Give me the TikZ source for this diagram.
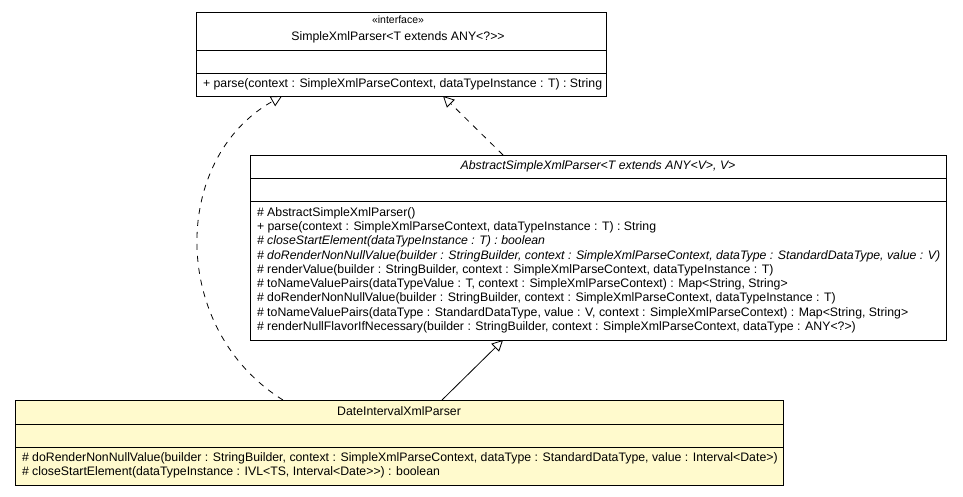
\documentclass[tikz,border=0pt]{standalone}
\usepackage{fontspec}
\setmainfont{Liberation Sans}
\usetikzlibrary{calc,arrows.meta}
\definecolor{noteyellow}{RGB}{255,250,205}
\begin{document}
\begin{tikzpicture}[x=1pt,y=-1pt,
  every node/.style={inner sep=0pt,outer sep=0pt},
  umltext/.style={font=\fontsize{12.3}{14}\selectfont,anchor=west},
  umlname/.style={font=\fontsize{12.3}{14}\selectfont,anchor=center},
  umlital/.style={font=\fontsize{12.3}{14}\selectfont\itshape,anchor=west},
  stereo/.style={font=\fontsize{10.5}{12}\selectfont,anchor=center},
  boxline/.style={draw=black,line width=0.9pt},
  realize/.style={dashed,dash pattern=on 6pt off 6pt,line width=0.8pt,-{Triangle[open,length=11pt,width=11pt]}},
  inherit/.style={line width=0.8pt,-{Triangle[open,length=11pt,width=11pt]}}]
\useasboundingbox (0,0) rectangle (963,496);
\fill[white] (0,0) rectangle (963,496);
% interface
\node[boxline,minimum width=410pt,minimum height=84pt,anchor=north west] (iface) at (196,12) {};
\draw[boxline] (196,50) -- (606,50) (196,73) -- (606,73);
\node[stereo] (ifst) at (398,20) {«interface»};
\node[umlname] (ifnm) at (398,37) {SimpleXmlParser<T extends ANY<?>{}>};
\node[umltext] (ifm) at (203,84) {+ parse(context : SimpleXmlParseContext, dataTypeInstance : T) : String};
% abstract class
\node[boxline,minimum width=696pt,minimum height=185pt,anchor=north west] (abs) at (250,155) {};
\draw[boxline] (250,178) -- (946,178) (250,201) -- (946,201);
\node[umlname,font=\fontsize{12.3}{14}\selectfont\itshape] (absnm) at (598,166) {AbstractSimpleXmlParser<T extends ANY<V>, V>};
\node[umltext] (a1) at (257,213) {\# AbstractSimpleXmlParser()};
\node[umltext] (a2) at (257,227.3) {+ parse(context : SimpleXmlParseContext, dataTypeInstance : T) : String};
\node[umlital] (a3) at (257,241.6) {\# closeStartElement(dataTypeInstance : T) : boolean};
\node[umlital] (a4) at (257,255.9) {\# doRenderNonNullValue(builder : StringBuilder, context : SimpleXmlParseContext, dataType : StandardDataType, value : V)};
\node[umltext] (a5) at (257,270.2) {\# renderValue(builder : StringBuilder, context : SimpleXmlParseContext, dataTypeInstance : T)};
\node[umltext] (a6) at (257,284.5) {\# toNameValuePairs(dataTypeValue : T, context : SimpleXmlParseContext) : Map<String, String>};
\node[umltext] (a7) at (257,298.8) {\# doRenderNonNullValue(builder : StringBuilder, context : SimpleXmlParseContext, dataTypeInstance : T)};
\node[umltext] (a8) at (257,313.1) {\# toNameValuePairs(dataType : StandardDataType, value : V, context : SimpleXmlParseContext) : Map<String, String>};
\node[umltext] (a9) at (257,327.4) {\# renderNullFlavorIfNecessary(builder : StringBuilder, context : SimpleXmlParseContext, dataType : ANY<?>)};
% concrete class
\node[boxline,fill=noteyellow,minimum width=768pt,minimum height=85pt,anchor=north west] (date) at (15,400) {};
\draw[boxline] (15,424) -- (783,424) (15,447) -- (783,447);
\node[umlname] (dnm) at (399,411) {DateIntervalXmlParser};
\node[umltext] (d1) at (22,458) {\# doRenderNonNullValue(builder : StringBuilder, context : SimpleXmlParseContext, dataType : StandardDataType, value : Interval<Date>)};
\node[umltext] (d2) at (22,472) {\# closeStartElement(dataTypeInstance : IVL<TS, Interval<Date>{}>) : boolean};
% connectors
\draw[realize] ($(date.north west)+(268,0)$) .. controls +(-113,-70) and +(-112,63) .. ($(iface.south west)+(86,0)$);
\draw[realize] ($(abs.north west)+(253,0)$) -- ($(iface.south west)+(247,0)$);
\draw[inherit] ($(date.north west)+(427,0)$) -- ($(abs.south west)+(253,0)$);
\end{tikzpicture}
\end{document}
